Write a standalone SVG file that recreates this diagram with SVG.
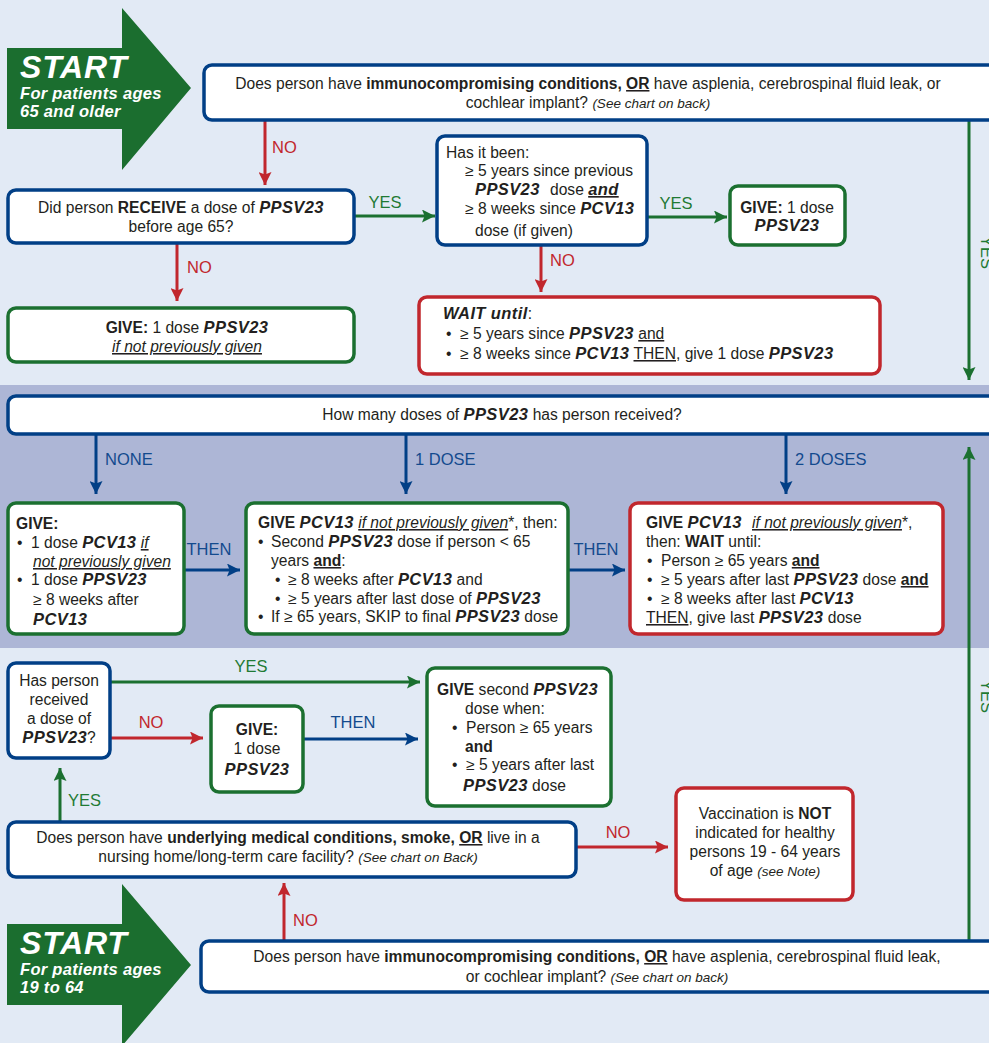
<svg xmlns="http://www.w3.org/2000/svg" width="989" height="1043" viewBox="0 0 989 1043">
<defs>
<style>
.t{font-family:"Liberation Sans",Arial,sans-serif;font-size:15.6px;fill:#231f20}
.b{font-weight:bold}
.bi{font-weight:bold;font-style:italic;font-size:16.5px;letter-spacing:0.4px}
.i{font-style:italic}
.u{text-decoration:underline}
.sm{font-size:13.5px}
.box{fill:#fff;stroke-width:3.5}
.bl{stroke:#013f86}
.gr{stroke:#1b7030}
.rd{stroke:#c1272d}
.ln{fill:none;stroke-width:3}
.lab{font-family:"Liberation Sans",Arial,sans-serif;font-size:16.5px}
.lb{fill:#134a8e}
.lg{fill:#1f7a34}
.lr{fill:#c1272d}
.st{font-family:"Liberation Sans",Arial,sans-serif;fill:#fff;font-weight:bold;font-style:italic}
</style>
<marker id="ab" viewBox="0 0 10 10" refX="10" refY="5" markerWidth="13" markerHeight="13" markerUnits="userSpaceOnUse" orient="auto"><path d="M0,0 L10,5 L0,10 L2,5 z" fill="#013f86"/></marker>
<marker id="ag" viewBox="0 0 10 10" refX="10" refY="5" markerWidth="13" markerHeight="13" markerUnits="userSpaceOnUse" orient="auto"><path d="M0,0 L10,5 L0,10 L2,5 z" fill="#1b7030"/></marker>
<marker id="ar" viewBox="0 0 10 10" refX="10" refY="5" markerWidth="13" markerHeight="13" markerUnits="userSpaceOnUse" orient="auto"><path d="M0,0 L10,5 L0,10 L2,5 z" fill="#c1272d"/></marker>
</defs>
<rect x="0" y="0" width="989" height="1043" fill="#e2eaf5"/>
<rect x="0" y="385" width="989" height="263" fill="#adb6d6"/>

<g id="start-top">
<polygon points="7,48 122,48 122,8 191,88 122,170 122,129 7,129" fill="#1b6e2f"/>
<text class="st" x="20" y="78" font-size="32" letter-spacing="0.8">START</text>
<text class="st" x="20" y="99" font-size="16.5" letter-spacing="0.3">For patients ages</text>
<text class="st" x="20" y="117" font-size="16.5" letter-spacing="0.3">65 and older</text>
</g>

<g id="start-bottom">
<polygon points="7,924 122,924 122,884 191,965 122,1046 122,1005 7,1005" fill="#1b6e2f"/>
<text class="st" x="20" y="954" font-size="32" letter-spacing="0.8">START</text>
<text class="st" x="20" y="975" font-size="16.5" letter-spacing="0.3">For patients ages</text>
<text class="st" x="20" y="993" font-size="16.5" letter-spacing="0.3">19 to 64</text>
</g>

<g id="connectors">
<line class="ln rd" x1="265" y1="121" x2="265" y2="185" marker-end="url(#ar)"/>
<text class="lab lr" x="272" y="153">NO</text>
<line class="ln gr" x1="355" y1="216" x2="435" y2="216" marker-end="url(#ag)"/>
<text class="lab lg" x="385" y="208" text-anchor="middle">YES</text>
<line class="ln gr" x1="648" y1="217" x2="727" y2="217" marker-end="url(#ag)"/>
<text class="lab lg" x="676" y="209" text-anchor="middle">YES</text>
<line class="ln rd" x1="541" y1="246" x2="541" y2="292" marker-end="url(#ar)"/>
<text class="lab lr" x="550" y="266">NO</text>
<line class="ln rd" x1="177" y1="244" x2="177" y2="301" marker-end="url(#ar)"/>
<text class="lab lr" x="187" y="273">NO</text>
<line class="ln gr" x1="969" y1="121" x2="969" y2="380" marker-end="url(#ag)"/>
<text class="lab lg" transform="translate(981,236) rotate(90)">YES</text>

<line class="ln bl" x1="96" y1="435" x2="96" y2="494" marker-end="url(#ab)"/>
<text class="lab lb" x="105" y="465">NONE</text>
<line class="ln bl" x1="406" y1="435" x2="406" y2="494" marker-end="url(#ab)"/>
<text class="lab lb" x="415" y="465">1 DOSE</text>
<line class="ln bl" x1="786" y1="435" x2="786" y2="494" marker-end="url(#ab)"/>
<text class="lab lb" x="795" y="465">2 DOSES</text>
<line class="ln bl" x1="185" y1="570" x2="240" y2="570" marker-end="url(#ab)"/>
<text class="lab lb" x="209" y="555" text-anchor="middle">THEN</text>
<line class="ln bl" x1="569" y1="570" x2="625" y2="570" marker-end="url(#ab)"/>
<text class="lab lb" x="596" y="555" text-anchor="middle">THEN</text>

<line class="ln gr" x1="969" y1="940" x2="969" y2="447" marker-end="url(#ag)"/>
<text class="lab lg" transform="translate(981,680) rotate(90)">YES</text>

<line class="ln gr" x1="111" y1="682" x2="420" y2="682" marker-end="url(#ag)"/>
<text class="lab lg" x="251" y="672" text-anchor="middle">YES</text>
<line class="ln rd" x1="111" y1="738" x2="203" y2="738" marker-end="url(#ar)"/>
<text class="lab lr" x="151" y="728" text-anchor="middle">NO</text>
<line class="ln bl" x1="304" y1="739" x2="418" y2="739" marker-end="url(#ab)"/>
<text class="lab lb" x="353" y="728" text-anchor="middle">THEN</text>
<line class="ln gr" x1="60" y1="821" x2="60" y2="768" marker-end="url(#ag)"/>
<text class="lab lg" x="68" y="806">YES</text>
<line class="ln rd" x1="577" y1="847" x2="668" y2="847" marker-end="url(#ar)"/>
<text class="lab lr" x="618" y="838" text-anchor="middle">NO</text>
<line class="ln rd" x1="284" y1="940" x2="284" y2="883" marker-end="url(#ar)"/>
<text class="lab lr" x="293" y="926">NO</text>
</g>

<g id="q-immuno-65">
<rect class="box bl" x="204" y="65" width="800" height="55" rx="8"/>
<text class="t" x="588" y="89" text-anchor="middle">Does person have <tspan class="b">immunocompromising conditions, </tspan><tspan class="b u">OR</tspan> have asplenia, cerebrospinal fluid leak, or</text>
<text class="t" x="588" y="108" text-anchor="middle">cochlear implant? <tspan class="i sm">(See chart on back)</tspan></text>
</g>

<g id="q-received-before-65">
<rect class="box bl" x="8" y="190" width="346" height="53" rx="8"/>
<text class="t" x="181" y="213" text-anchor="middle">Did person <tspan class="b">RECEIVE</tspan> a dose of <tspan class="bi">PPSV23</tspan></text>
<text class="t" x="181" y="232" text-anchor="middle">before age 65?</text>
</g>

<g id="q-has-it-been">
<rect class="box bl" x="437" y="136" width="210" height="109" rx="8"/>
<text class="t" x="446" y="158">Has it been:</text>
<text class="t" x="465" y="176">≥ 5 years since previous</text>
<text class="t" x="475" y="195"><tspan class="bi">PPSV23</tspan><tspan x="550">dose </tspan><tspan class="bi u">and</tspan></text>
<text class="t" x="465" y="214">≥ 8 weeks since <tspan class="bi">PCV13</tspan></text>
<text class="t" x="475" y="236">dose (if given)</text>
</g>

<g id="give-1-ppsv23-top">
<rect class="box gr" x="730" y="186" width="115" height="59" rx="8"/>
<text class="t" x="787" y="213" text-anchor="middle"><tspan class="b">GIVE:</tspan> 1 dose</text>
<text class="t bi" x="787" y="231" text-anchor="middle">PPSV23</text>
</g>

<g id="wait-until">
<rect class="box rd" x="419" y="297" width="461" height="77" rx="8"/>
<text class="t" x="443" y="319"><tspan class="bi">WAIT until</tspan>:</text>
<text class="t" y="339"><tspan x="446">•</tspan><tspan x="460">≥ 5 years since </tspan><tspan class="bi">PPSV23</tspan> <tspan class="u">and</tspan></text>
<text class="t" y="359"><tspan x="446">•</tspan><tspan x="460">≥ 8 weeks since </tspan><tspan class="bi">PCV13</tspan> <tspan class="u">THEN</tspan>, give 1 dose <tspan class="bi">PPSV23</tspan></text>
</g>

<g id="give-1-ppsv23-if-not">
<rect class="box gr" x="8" y="308" width="346" height="54" rx="8"/>
<text class="t" x="187" y="333" text-anchor="middle"><tspan class="b">GIVE:</tspan> 1 dose <tspan class="bi">PPSV23</tspan></text>
<text class="t i u" x="187" y="352" text-anchor="middle">if not previously given</text>
</g>

<g id="q-how-many">
<rect class="box bl" x="8" y="396" width="1000" height="38" rx="8"/>
<text class="t" x="502" y="420" text-anchor="middle">How many doses of <tspan class="bi">PPSV23</tspan> has person received?</text>
</g>

<g id="none-give">
<rect class="box gr" x="8" y="503" width="176" height="131" rx="8"/>
<text class="t b" x="16" y="529">GIVE:</text>
<text class="t" y="548"><tspan x="17">•</tspan><tspan x="31">1 dose </tspan><tspan class="bi">PCV13</tspan> <tspan class="i u">if</tspan></text>
<text class="t i u" x="33" y="567">not  previously given</text>
<text class="t" y="585"><tspan x="17">•</tspan><tspan x="31">1 dose </tspan><tspan class="bi">PPSV23</tspan></text>
<text class="t" x="33" y="605">≥ 8 weeks after</text>
<text class="t bi" x="33" y="625">PCV13</text>
</g>

<g id="one-dose-give">
<rect class="box gr" x="246" y="503" width="322" height="131" rx="8"/>
<text class="t" x="258" y="528"><tspan class="b">GIVE </tspan><tspan class="bi">PCV13</tspan> <tspan class="i u">if not previously given</tspan>*, then:</text>
<text class="t" y="547"><tspan x="258">•</tspan><tspan x="271">Second </tspan><tspan class="bi">PPSV23</tspan> dose if person &lt; 65</text>
<text class="t" x="271" y="566">years <tspan class="b u">and</tspan>:</text>
<text class="t" y="585"><tspan x="275">•</tspan><tspan x="288">≥ 8 weeks after </tspan><tspan class="bi">PCV13</tspan> and</text>
<text class="t" y="604"><tspan x="275">•</tspan><tspan x="288">≥ 5 years after last dose of </tspan><tspan class="bi">PPSV23</tspan></text>
<text class="t" y="622"><tspan x="258">•</tspan><tspan x="271">If ≥ 65 years, SKIP to final </tspan><tspan class="bi">PPSV23</tspan> dose</text>
</g>

<g id="two-doses-give">
<rect class="box rd" x="630" y="503" width="313" height="131" rx="8"/>
<text class="t" x="646" y="528"><tspan class="b">GIVE </tspan><tspan class="bi">PCV13</tspan><tspan x="752" class="i u">if not previously given</tspan>*,</text>
<text class="t" x="646" y="547">then: <tspan class="b">WAIT</tspan> until:</text>
<text class="t" y="566"><tspan x="647">•</tspan><tspan x="661">Person ≥ 65 years </tspan><tspan class="b u">and</tspan></text>
<text class="t" y="585"><tspan x="647">•</tspan><tspan x="661">≥ 5 years after last </tspan><tspan class="bi">PPSV23</tspan> dose <tspan class="b u">and</tspan></text>
<text class="t" y="604"><tspan x="647">•</tspan><tspan x="661">≥ 8 weeks after last </tspan><tspan class="bi">PCV13</tspan></text>
<text class="t" x="646" y="623"><tspan class="u">THEN</tspan>, give last <tspan class="bi">PPSV23</tspan> dose</text>
</g>

<g id="q-has-received">
<rect class="box bl" x="8" y="663" width="102" height="95" rx="8"/>
<text class="t" x="59" y="686" text-anchor="middle">Has person</text>
<text class="t" x="59" y="705" text-anchor="middle">received</text>
<text class="t" x="59" y="724" text-anchor="middle">a dose of</text>
<text class="t" x="59" y="743" text-anchor="middle"><tspan class="bi">PPSV23</tspan>?</text>
</g>

<g id="give-1-ppsv23-mid">
<rect class="box gr" x="211" y="706" width="92" height="86" rx="8"/>
<text class="t b" x="257" y="735" text-anchor="middle">GIVE:</text>
<text class="t" x="257" y="754" text-anchor="middle">1 dose</text>
<text class="t bi" x="257" y="775" text-anchor="middle">PPSV23</text>
</g>

<g id="give-second-ppsv23">
<rect class="box gr" x="427" y="668" width="184" height="138" rx="8"/>
<text class="t" x="437" y="695"><tspan class="b">GIVE</tspan> second <tspan class="bi">PPSV23</tspan></text>
<text class="t" x="465" y="714">dose when:</text>
<text class="t" y="733"><tspan x="452">•</tspan><tspan x="466">Person ≥ 65 years</tspan></text>
<text class="t b" x="465" y="752">and</text>
<text class="t" y="770"><tspan x="452">•</tspan><tspan x="466">≥ 5 years after last</tspan></text>
<text class="t" x="463" y="791"><tspan class="bi">PPSV23</tspan> dose</text>
</g>

<g id="q-underlying">
<rect class="box bl" x="8" y="822" width="568" height="55" rx="8"/>
<text class="t" x="288" y="843" text-anchor="middle">Does person have <tspan class="b">underlying medical conditions, smoke, </tspan><tspan class="b u">OR</tspan> live in a</text>
<text class="t" x="288" y="862" text-anchor="middle">nursing home/long-term care facility? <tspan class="i sm">(See chart on Back)</tspan></text>
</g>

<g id="not-indicated">
<rect class="box rd" x="676" y="788" width="177" height="112" rx="8"/>
<text class="t" x="765" y="819" text-anchor="middle">Vaccination is <tspan class="b">NOT</tspan></text>
<text class="t" x="765" y="838" text-anchor="middle">indicated for healthy</text>
<text class="t" x="765" y="857" text-anchor="middle">persons 19 - 64 years</text>
<text class="t" x="765" y="876" text-anchor="middle">of age <tspan class="i sm">(see Note)</tspan></text>
</g>

<g id="q-immuno-19-64">
<rect class="box bl" x="201" y="941" width="803" height="51" rx="8"/>
<text class="t" x="597" y="962" text-anchor="middle">Does person have <tspan class="b">immunocompromising conditions, </tspan><tspan class="b u">OR</tspan> have asplenia, cerebrospinal  fluid leak,</text>
<text class="t" x="597" y="982" text-anchor="middle">or cochlear implant? <tspan class="i sm">(See chart on back)</tspan></text>
</g>
</svg>
